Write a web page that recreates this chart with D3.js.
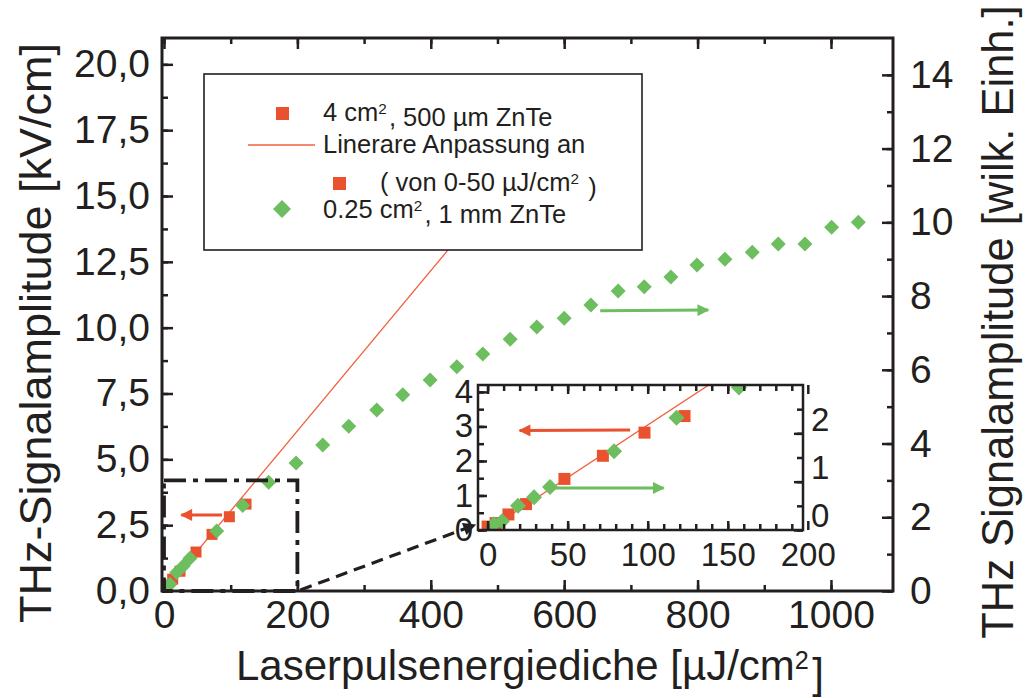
<!DOCTYPE html>
<html>
<head>
<meta charset="utf-8">
<script src="https://cdn.jsdelivr.net/npm/d3@7"></script>
<style>
  body { margin: 0; background: #fff; }
  text { font-family: "Liberation Sans", Arial, sans-serif; fill: #231f20; }
</style>
</head>
<body>
<div id="chart"></div>
<script>
// 4 cm2, 500 um ZnTe  (linke Achse, kV/cm)
var redX = [0, 5, 13, 24, 48, 72, 98, 123];
var redY = [0.1, 0.2, 0.45, 0.75, 1.48, 2.15, 2.82, 3.3];
// 0.25 cm2, 1 mm ZnTe (rechte Achse, wilk. Einh.)
var greenX = [4, 9, 19, 29, 39, 79, 118, 157, 198, 238, 277, 319, 358, 399, 439,
              478, 519, 559, 600, 640, 681, 720, 760, 799, 841, 882, 921, 961, 1001, 1041];
var greenY = [0.12, 0.18, 0.5, 0.68, 0.89, 1.63, 2.32, 2.95, 3.47, 3.96, 4.47, 4.91, 5.32, 5.72, 6.08,
              6.43, 6.83, 7.16, 7.4, 7.76, 8.14, 8.25, 8.52, 8.84, 9.0, 9.19, 9.41, 9.41, 9.87, 10.0];
// lineare Anpassung
var fitX = [0, 440];
var fitY = [0, 13.38];

var xTicks = [0, 200, 400, 600, 800, 1000];
var yLeftTicks = [0, 2.5, 5, 7.5, 10, 12.5, 15, 17.5, 20];
var yRightTicks = [0, 2, 4, 6, 8, 10, 12, 14];
var insetXTicks = [0, 50, 100, 150, 200];
var insetLeftTicks = [0, 1, 2, 3, 4];
var insetRightTicks = [0, 1, 2];

var red = "#e9512f", green = "#6dbe5f", ink = "#231f20";
var W = 1025, H = 698;

var svg = d3.select("#chart").append("svg")
    .attr("width", W).attr("height", H);

var defs = svg.append("defs");
function arrowMarker(id, color) {
  defs.append("marker")
      .attr("id", id)
      .attr("viewBox", "0 0 10 10")
      .attr("refX", 9).attr("refY", 5)
      .attr("markerWidth", 5).attr("markerHeight", 4)
      .attr("markerUnits", "strokeWidth")
      .attr("orient", "auto")
    .append("path").attr("d", "M0,0 L10,5 L0,10 z").attr("fill", color);
}
arrowMarker("ar-red", red);
arrowMarker("ar-green", green);
arrowMarker("ar-black", ink);

// Hauptdiagramm
var frame = {left: 162, top: 38, right: 893, bottom: 591};
var x = d3.scaleLinear().domain([-3, 1093]).range([frame.left, frame.right]);
var yL = d3.scaleLinear().domain([0, 21]).range([frame.bottom, frame.top]);
var yR = d3.scaleLinear().domain([0, 15]).range([frame.bottom, frame.top]);

var fmtComma = function(d) { return d3.format(".1f")(d).replace(".", ","); };

function styleAxis(g, size) {
  g.select(".domain").remove();
  g.selectAll("line").attr("stroke", ink).attr("stroke-width", 2.5);
  g.selectAll("text").style("font-size", size + "px")
      .style("font-family", '"Liberation Sans", Arial, sans-serif').attr("fill", ink);
  g.attr("font-family", null).attr("font-size", null);
}

function drawAxes(g, xs, ysL, ysR, f, o) {
  // unten
  g.append("g").attr("transform", "translate(0," + f.bottom + ")")
      .call(d3.axisBottom(xs).tickValues(o.xMinor).tickSize(-o.minor).tickFormat(""))
      .call(styleAxis, o.font);
  g.append("g").attr("transform", "translate(0," + f.bottom + ")")
      .call(d3.axisBottom(xs).tickValues(o.xMajor).tickSize(-o.major).tickPadding(o.padB).tickFormat(o.xFmt))
      .call(styleAxis, o.font);
  // oben
  g.append("g").attr("transform", "translate(0," + f.top + ")")
      .call(d3.axisTop(xs).tickValues(o.xMinor).tickSize(-o.minor).tickFormat(""))
      .call(styleAxis, o.font);
  g.append("g").attr("transform", "translate(0," + f.top + ")")
      .call(d3.axisTop(xs).tickValues(o.xMajor).tickSize(-o.major).tickFormat(""))
      .call(styleAxis, o.font);
  // links
  g.append("g").attr("transform", "translate(" + f.left + ",0)")
      .call(d3.axisLeft(ysL).tickValues(o.lMinor).tickSize(-o.minor).tickFormat(""))
      .call(styleAxis, o.font);
  g.append("g").attr("transform", "translate(" + f.left + ",0)")
      .call(d3.axisLeft(ysL).tickValues(o.lMajor).tickSize(-o.major).tickPadding(o.padL).tickFormat(o.lFmt))
      .call(styleAxis, o.font);
  // rechts
  g.append("g").attr("transform", "translate(" + f.right + ",0)")
      .call(d3.axisRight(ysR).tickValues(o.rMinor).tickSize(-o.minor).tickFormat(""))
      .call(styleAxis, o.font);
  var r = g.append("g").attr("transform", "translate(" + f.right + ",0)")
      .call(d3.axisRight(ysR).tickValues(o.rMajor).tickSize(-o.major).tickPadding(o.padR).tickFormat(o.rFmt))
      .call(styleAxis, o.font);
  if (o.rDy) r.selectAll("text").attr("dy", o.rDy);
  // Rahmen
  g.append("rect")
      .attr("x", f.left).attr("y", f.top)
      .attr("width", f.right - f.left).attr("height", f.bottom - f.top)
      .attr("fill", "none").attr("stroke", ink).attr("stroke-width", o.frameW);
}

function squares(g, xs, ys, size) {
  g.selectAll(null).data(redX).enter().append("rect")
      .attr("x", function(d) { return xs(d) - size / 2; })
      .attr("y", function(d, i) { return ys(redY[i]) - size / 2; })
      .attr("width", size).attr("height", size)
      .attr("fill", red);
}
function diamonds(g, xs, ys, r) {
  g.selectAll(null).data(greenX).enter().append("path")
      .attr("d", function(d, i) {
        var cx = xs(d), cy = ys(greenY[i]);
        return "M" + cx + "," + (cy - r) + "L" + (cx + r) + "," + cy +
               "L" + cx + "," + (cy + r) + "L" + (cx - r) + "," + cy + "Z";
      })
      .attr("fill", green);
}
function fitLine(g, xs, ys) {
  g.append("path")
      .datum(d3.zip(fitX, fitY))
      .attr("d", d3.line().x(function(d) { return xs(d[0]); }).y(function(d) { return ys(d[1]); }))
      .attr("stroke", "#f0603f").attr("stroke-width", 1.3).attr("fill", "none");
}

var main = svg.append("g");
defs.append("clipPath").attr("id", "clip-main").append("rect")
    .attr("x", frame.left).attr("y", frame.top)
    .attr("width", frame.right - frame.left).attr("height", frame.bottom - frame.top);
var mainData = main.append("g").attr("clip-path", "url(#clip-main)");
fitLine(mainData, x, yL);
squares(mainData, x, yL, 11);
diamonds(mainData, x, yR, 7.5);

drawAxes(main, x, yL, yR, frame, {
  xMinor: d3.range(0, 1001, 100), xMajor: xTicks, xFmt: d3.format("d"),
  lMinor: d3.range(0, 20.1, 1.25), lMajor: yLeftTicks, lFmt: fmtComma,
  rMinor: d3.range(0, 15, 1), rMajor: yRightTicks, rFmt: d3.format("d"),
  minor: 6, major: 11, padB: 9, padL: 12, padR: 17, font: 39, frameW: 3
});

// Pfeile im Hauptdiagramm
main.append("line")
    .attr("x1", x(87)).attr("y1", yL(2.89)).attr("x2", x(26)).attr("y2", yL(2.89))
    .attr("stroke", red).attr("stroke-width", 3).attr("marker-end", "url(#ar-red)");
main.append("line")
    .attr("x1", x(654)).attr("y1", yR(7.6)).attr("x2", x(816)).attr("y2", yR(7.62))
    .attr("stroke", green).attr("stroke-width", 3).attr("marker-end", "url(#ar-green)");

// Zoom-Rahmen (strichpunktiert) 0-200, 0-4,2
main.append("rect")
    .attr("x", x(0)).attr("y", yL(4.2))
    .attr("width", x(200) - x(0)).attr("height", yL(0) - yL(4.2))
    .attr("fill", "none").attr("stroke", ink).attr("stroke-width", 3.8)
    .attr("stroke-dasharray", "22,7,5,7");

// Inset
var iframe = {left: 478, top: 385, right: 803, bottom: 530};
var ix = d3.scaleLinear().domain([-6, 197]).range([iframe.left, iframe.right]);
var iyL = d3.scaleLinear().domain([0, 4.2]).range([iframe.bottom, iframe.top]);
var iyR = d3.scaleLinear().domain([0, 3]).range([iframe.bottom, iframe.top]);

main.append("line")
    .attr("x1", x(200) + 3).attr("y1", yL(0) - 1)
    .attr("x2", iframe.left - 3).attr("y2", iframe.bottom - 5)
    .attr("stroke", ink).attr("stroke-width", 3.2)
    .attr("stroke-dasharray", "12,7").attr("marker-end", "url(#ar-black)");

var inset = svg.append("g");
inset.append("rect")
    .attr("x", iframe.left).attr("y", iframe.top)
    .attr("width", iframe.right - iframe.left).attr("height", iframe.bottom - iframe.top)
    .attr("fill", "#fff");
defs.append("clipPath").attr("id", "clip-inset").append("rect")
    .attr("x", iframe.left).attr("y", iframe.top)
    .attr("width", iframe.right - iframe.left).attr("height", iframe.bottom - iframe.top);
var insetData = inset.append("g").attr("clip-path", "url(#clip-inset)");
fitLine(insetData, ix, iyL);
squares(insetData, ix, iyL, 12);
diamonds(insetData, ix, iyR, 8);

inset.append("line")
    .attr("x1", ix(89)).attr("y1", iyL(2.9)).attr("x2", ix(20)).attr("y2", iyL(2.88))
    .attr("stroke", red).attr("stroke-width", 3).attr("marker-end", "url(#ar-red)");
inset.append("line")
    .attr("x1", ix(42)).attr("y1", iyR(0.87)).attr("x2", ix(110)).attr("y2", iyR(0.87))
    .attr("stroke", green).attr("stroke-width", 3).attr("marker-end", "url(#ar-green)");

drawAxes(inset, ix, iyL, iyR, iframe, {
  xMinor: d3.range(0, 197, 10), xMajor: insetXTicks, xFmt: d3.format("d"),
  lMinor: d3.range(0, 4.1, 0.5), lMajor: insetLeftTicks, lFmt: d3.format("d"),
  rMinor: d3.range(0, 2.6, 0.5), rMajor: insetRightTicks, rFmt: d3.format("d"),
  minor: 6, major: 9, padB: 13, padL: 5, padR: 8, font: 33, frameW: 2.5, rDy: "-0.1em"
});

// Achsentitel
function superText(sel, parts) {
  parts.forEach(function(p) {
    if (p.sup) {
      sel.append("tspan").attr("dy", "-0.45em").style("font-size", "60%").text(p.t);
      sel.append("tspan").attr("dy", "0.45em").text("\u200a");
    } else {
      sel.append("tspan").text(p.t);
    }
  });
}

svg.append("text")
    .attr("transform", "translate(51,333) rotate(-90)")
    .attr("text-anchor", "middle").style("font-size", "45px")
    .text("THz-Signalamplitude [kV/cm]");
svg.append("text")
    .attr("transform", "translate(1013,322) rotate(-90)")
    .attr("text-anchor", "middle").style("font-size", "43.5px")
    .text("THz Signalamplitude [wilk. Einh.]");
var xt = svg.append("text")
    .attr("x", 530).attr("y", 680)
    .attr("text-anchor", "middle").style("font-size", "42px");
superText(xt, [{t: "Laserpulsenergiediche [\u00b5J/cm"}, {t: "2", sup: true}, {t: "]"}]);

// Legende
var leg = svg.append("g");
leg.append("rect")
    .attr("x", 204).attr("y", 74).attr("width", 438).attr("height", 176)
    .attr("fill", "#fff").attr("stroke", ink).attr("stroke-width", 1.6);
leg.append("rect").attr("x", 276).attr("y", 107).attr("width", 13).attr("height", 13).attr("fill", red);
leg.append("line").attr("x1", 248).attr("x2", 315).attr("y1", 145).attr("y2", 145)
    .attr("stroke", "#f0603f").attr("stroke-width", 1.3);
leg.append("rect").attr("x", 333).attr("y", 177).attr("width", 13).attr("height", 13).attr("fill", red);
leg.append("path").attr("d", "M282,200 L291,209 L282,218 L273,209 Z").attr("fill", green);

var lt1 = leg.append("text").attr("x", 323).attr("y", 121).style("font-size", "25.5px");
superText(lt1, [{t: "4 cm"}, {t: "2", sup: true}, {t: ", 500 \u00b5m ZnTe"}]);
leg.append("text").attr("x", 323).attr("y", 153).style("font-size", "25.5px")
    .text("Linerare Anpassung an");
var lt3 = leg.append("text").attr("x", 380).attr("y", 191).style("font-size", "25.5px");
superText(lt3, [{t: "( von 0-50 \u00b5J/cm"}, {t: "2", sup: true}, {t: " )"}]);
var lt4 = leg.append("text").attr("x", 323).attr("y", 218).style("font-size", "25.5px");
superText(lt4, [{t: "0.25 cm"}, {t: "2", sup: true}, {t: ", 1 mm ZnTe"}]);
</script>
</body>
</html>
